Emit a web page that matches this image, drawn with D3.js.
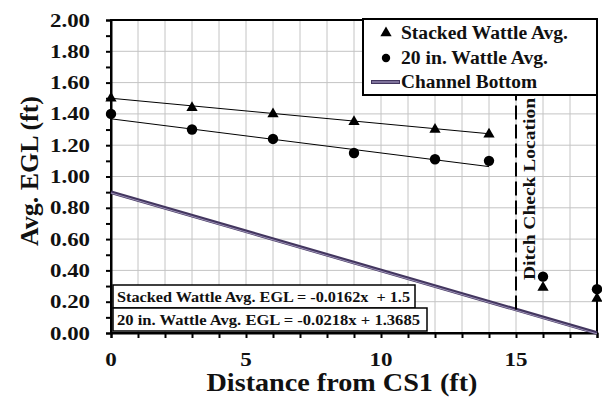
<!DOCTYPE html>
<html>
<head>
<meta charset="utf-8">
<script src="https://cdn.jsdelivr.net/npm/d3@7"></script>
<style>
  html, body { margin: 0; padding: 0; background: #fff; }
  svg text { font-family: "Liberation Serif", "DejaVu Serif", serif; font-weight: bold; fill: #111; }
</style>
</head>
<body>
<svg id="chart" width="602" height="400"></svg>
<script>
// Measured positions along the channel (ft from CS1)
const distance = [0, 3, 6, 9, 12, 14, 16, 18];
// Average energy grade line (ft) for each wattle configuration
const stackedAvg = [1.50, 1.44, 1.40, 1.35, 1.30, 1.27, 0.29, 0.22];
const wattle20Avg = [1.40, 1.30, 1.24, 1.15, 1.11, 1.10, 0.36, 0.28];

// Linear fits upstream of the ditch check (x = 0..14)
const trendNames = ["Stacked Wattle Avg.", "20 in. Wattle Avg."];
const trendSlopes = [-0.0162, -0.0218];
const trendIntercepts = [1.5, 1.3685];
const trendRange = [0, 14];

// Channel bottom profile
const channelX = [0, 18];
const channelY = [0.9, 0.0];

const ditchCheckX = 15;

const xTickLabels = [0, 5, 10, 15];
const yTickLabels = [0, 0.2, 0.4, 0.6, 0.8, 1.0, 1.2, 1.4, 1.6, 1.8, 2.0];

const svg = d3.select("#chart");
const plot = { left: 111, top: 20, right: 597, bottom: 333 };

const x = d3.scaleLinear().domain([0, 18]).range([plot.left, plot.right]);
const y = d3.scaleLinear().domain([0, 2]).range([plot.bottom, plot.top]);

// Grid
const grid = svg.append("g").attr("stroke", "#c4c4c4").attr("stroke-width", 1);
grid.selectAll("line.v").data(d3.range(1, 18)).join("line")
  .attr("x1", d => x(d)).attr("x2", d => x(d))
  .attr("y1", plot.top).attr("y2", plot.bottom);
grid.selectAll("line.h").data(d3.range(0.2, 2.0, 0.2)).join("line")
  .attr("y1", d => y(d)).attr("y2", d => y(d))
  .attr("x1", plot.left).attr("x2", plot.right);

// Frame
svg.append("rect")
  .attr("x", plot.left).attr("y", plot.top)
  .attr("width", plot.right - plot.left).attr("height", plot.bottom - plot.top)
  .attr("fill", "none").attr("stroke", "#000").attr("stroke-width", 2);

// Axes
const xAxis = d3.axisBottom(x).tickValues(d3.range(0, 19, 1)).tickSize(5).tickFormat("");
svg.append("g").attr("transform", `translate(0,${plot.bottom})`).call(xAxis)
  .call(g => g.select(".domain").attr("stroke-width", 2))
  .call(g => g.selectAll(".tick line").attr("stroke-width", 2));
svg.append("g").selectAll("text").data(xTickLabels).join("text")
  .attr("x", d => x(d)).attr("y", 366)
  .attr("text-anchor", "middle").attr("font-size", 19)
  .attr("textLength", d => String(d).length * 11.5).attr("lengthAdjust", "spacingAndGlyphs")
  .text(d => d);

const yAxis = d3.axisLeft(y).tickValues(d3.range(0, 21).map(i => i / 10)).tickSize(5).tickFormat("");
svg.append("g").attr("transform", `translate(${plot.left},0)`).call(yAxis)
  .call(g => g.select(".domain").attr("stroke-width", 2))
  .call(g => g.selectAll(".tick line").attr("stroke-width", 2));
svg.append("g").selectAll("text").data(yTickLabels).join("text")
  .attr("x", 90).attr("y", d => y(d) + 6.5)
  .attr("text-anchor", "end").attr("font-size", 19)
  .attr("textLength", 40).attr("lengthAdjust", "spacingAndGlyphs")
  .text(d => d.toFixed(2));

// Axis titles
svg.append("text")
  .attr("transform", `translate(38,${171}) rotate(-90)`)
  .attr("text-anchor", "middle").attr("font-size", 25)
  .attr("textLength", 150).attr("lengthAdjust", "spacingAndGlyphs")
  .text("Avg. EGL (ft)");
svg.append("text")
  .attr("x", 342).attr("y", 391)
  .attr("text-anchor", "middle").attr("font-size", 26)
  .attr("textLength", 271).attr("lengthAdjust", "spacingAndGlyphs")
  .text("Distance from CS1 (ft)");

// Channel bottom (double-toned line)
const channelPts = channelX.map((d, i) => [x(d), y(channelY[i])]);
svg.append("path").attr("d", d3.line()(channelPts))
  .attr("stroke", "#43365f").attr("stroke-width", 3.6).attr("fill", "none");
svg.append("path").attr("d", d3.line()(channelPts.map(p => [p[0], p[1] + 0.8])))
  .attr("stroke", "#9d92b8").attr("stroke-width", 1).attr("fill", "none");

// Ditch check location
svg.append("line")
  .attr("x1", x(ditchCheckX)).attr("x2", x(ditchCheckX))
  .attr("y1", y(channelY[0] + (channelY[1] - channelY[0]) * ditchCheckX / 18)).attr("y2", plot.top)
  .attr("stroke", "#000").attr("stroke-width", 2).attr("stroke-dasharray", "14,5");
svg.append("text")
  .attr("transform", `translate(${x(ditchCheckX) + 19},${189}) rotate(-90)`)
  .attr("text-anchor", "middle").attr("font-size", 17)
  .attr("textLength", 182).attr("lengthAdjust", "spacingAndGlyphs")
  .text("Ditch Check Location");

// Trend lines
trendSlopes.forEach((m, i) => {
  const pts = trendRange.map(d => [x(d), y(m * d + trendIntercepts[i])]);
  svg.append("path").attr("d", d3.line()(pts))
    .attr("stroke", "#000").attr("stroke-width", 1).attr("fill", "none");
});

// Markers
const tri = d3.symbol().type(d3.symbolTriangle).size(55);
svg.append("g").selectAll("path").data(distance).join("path")
  .attr("d", tri)
  .attr("transform", (d, i) => `translate(${x(d)},${y(stackedAvg[i])})`)
  .attr("fill", "#000");
svg.append("g").selectAll("circle").data(distance).join("circle")
  .attr("cx", d => x(d)).attr("cy", (d, i) => y(wattle20Avg[i]))
  .attr("r", 5.2).attr("fill", "#000");

// Legend
const lg = svg.append("g");
lg.append("rect").attr("x", 363).attr("y", 19).attr("width", 234).attr("height", 76)
  .attr("fill", "#fff").attr("stroke", "#000").attr("stroke-width", 2);
lg.append("path").attr("d", tri).attr("transform", "translate(386,33)").attr("fill", "#000");
lg.append("circle").attr("cx", 386).attr("cy", 58).attr("r", 4.2).attr("fill", "#000");
lg.append("line").attr("x1", 371).attr("x2", 400).attr("y1", 82).attr("y2", 82)
  .attr("stroke", "#43365f").attr("stroke-width", 4);
lg.append("line").attr("x1", 372).attr("x2", 399).attr("y1", 82).attr("y2", 82)
  .attr("stroke", "#8e83aa").attr("stroke-width", 1.6);
const legendLabels = ["Stacked Wattle Avg.", "20 in. Wattle Avg.", "Channel Bottom"];
const legendWidths = [167, 147, 136];
lg.selectAll("text").data(legendLabels).join("text")
  .attr("x", 401)
  .attr("y", (d, i) => 39 + i * 24.5)
  .attr("font-size", 18)
  .attr("textLength", (d, i) => legendWidths[i]).attr("lengthAdjust", "spacingAndGlyphs")
  .text(d => d);

// Equation boxes
const eqText = trendNames.map((n, i) =>
  i === 0
    ? `${n} EGL = ${trendSlopes[i]}x  + ${trendIntercepts[i]}`
    : `${n} EGL = ${trendSlopes[i]}x + ${trendIntercepts[i]}`);
const eqBoxes = [[113, 285, 302, 23], [113, 308, 314, 23]];
const eqWidths = [293, 303];
eqText.forEach((t, i) => {
  const [bx, by, bw, bh] = eqBoxes[i];
  svg.append("rect").attr("x", bx).attr("y", by).attr("width", bw).attr("height", bh)
    .attr("fill", "#fff").attr("stroke", "#000").attr("stroke-width", 1.5);
  svg.append("text").attr("x", bx + 4).attr("y", by + 16.5)
    .attr("font-size", 15).attr("xml:space", "preserve").style("white-space", "pre")
    .attr("textLength", eqWidths[i]).attr("lengthAdjust", "spacingAndGlyphs")
    .text(t);
});
</script>
</body>
</html>
